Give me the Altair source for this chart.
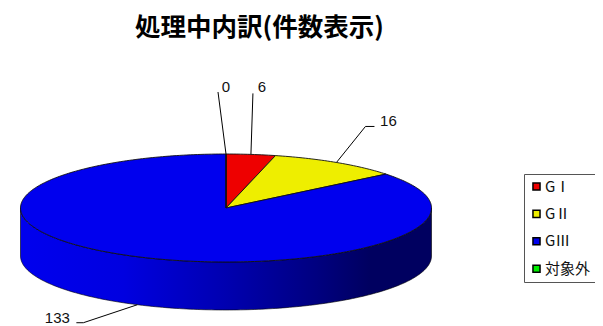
import numpy as np
import pandas as pd
import altair as alt

# Data
categories = ["GⅠ", "GⅡ", "GⅢ", "対象外"]
values = [6, 16, 133, 0]
colors = ["#EE0000", "#EEEE00", "#0000EE", "#00EE00"]
label_texts = ["6", "16", "133", "0"]

# Pie geometry (pixels of the page)
CX, CY, RX, RY, DEPTH = 226.0, 208.0, 205.5, 54.0, 48.0
PAD_TOP = 34
W, H = 587, 318 - PAD_TOP
X0, Y0 = 8, 8 + PAD_TOP            # page position of the plot's top-left corner

total = sum(values)
bounds = np.cumsum([0] + values) / total * 2 * np.pi


def rim(theta):
    return RX * np.sin(theta), RY * np.cos(theta)


features = []
for name, a, b in zip(categories, bounds[:-1], bounds[1:]):
    n = max(2, int(np.degrees(b - a)) + 2)
    th = np.linspace(a, b, n)
    xs, ys = rim(th)
    ring = [[0.0, 0.0]] + [[float(x), float(y)] for x, y in zip(xs, ys)] + [[0.0, 0.0]]
    features.append({"type": "Feature",
                     "geometry": {"type": "Polygon", "coordinates": [ring]},
                     "properties": {"name": name}})

# Side wall: the front half of the rim, dropped by the pie's depth
th = np.linspace(np.pi / 2, 3 * np.pi / 2, 181)
wx, wy = rim(th)
wall = pd.DataFrame({"x": wx, "y": wy, "y2": wy - DEPTH})

# Leader lines start on the rim at each slice's middle angle
mids = (bounds[:-1] + bounds[1:]) / 2
# (elbow offset, end offset, label offset) relative to the anchor, per label
leader_shape = [
    ((2, 61), (2, 61), (11, 67)),         # 6
    ((29, 36), (38, 36), (52, 41)),       # 16
    ((-54, -18), (-61, -18), (-80, -13)), # 133
    ((-8, 62), (-8, 62), (0, 67)),        # 0
]
rows, labels = [], []
for i, (m, txt, shape) in enumerate(zip(mids, label_texts, leader_shape)):
    ax, ay = rim(m)
    if np.cos(m) < 0:
        ay = ay - DEPTH
    rows.append({"k": i, "o": 0, "x": ax, "y": ay})
    rows.append({"k": i, "o": 1, "x": ax + shape[0][0], "y": ay + shape[0][1]})
    rows.append({"k": i, "o": 2, "x": ax + shape[1][0], "y": ay + shape[1][1]})
    labels.append({"x": ax + shape[2][0], "y": ay + shape[2][1], "t": txt})
leaders = pd.DataFrame(rows)
label_df = pd.DataFrame(labels)

x_scale = alt.Scale(domain=[X0 - CX, X0 + W - CX], nice=False, zero=False)
y_scale = alt.Scale(domain=[CY - Y0 - H, CY - Y0], nice=False, zero=False)
X = alt.X("x:Q", scale=x_scale, axis=None)
Y = alt.Y("y:Q", scale=y_scale, axis=None)

wall_grad = alt.LinearGradient(
    gradient="linear", x1=0, x2=1, y1=0, y2=0,
    stops=[
        alt.GradientStop(offset=0, color="#0000EE"),
        alt.GradientStop(offset=0.25, color="#0000E0"),
        alt.GradientStop(offset=0.5, color="#0000B0"),
        alt.GradientStop(offset=0.72, color="#000080"),
        alt.GradientStop(offset=0.85, color="#000060"),
        alt.GradientStop(offset=1, color="#000060"),
    ],
)

wall_layer = alt.Chart(wall).mark_area(
    color=wall_grad, stroke="#000000", strokeWidth=0.6
).encode(x=X, y=Y, y2="y2:Q")

pie_layer = alt.Chart(alt.Data(values=features)).mark_geoshape(
    stroke="#111111", strokeWidth=0.9
).encode(
    color=alt.Color(
        "properties.name:N",
        scale=alt.Scale(domain=categories, range=colors),
        legend=alt.Legend(
            title=None, orient="none", legendX=524 - X0, legendY=174 - Y0,
            symbolType="square", symbolSize=50, symbolStrokeColor="#000000",
            symbolStrokeWidth=1.5, symbolOpacity=1,
            labelFont="Noto Sans CJK JP", labelFontSize=15, labelColor="#111111",
            labelOffset=1, rowPadding=11.4, padding=5,
            fillColor="#FFFFFF", strokeColor="#555555",
            labelLimit=80,
        ),
    )
).project(type="identity", scale=1, translate=[CX - X0, CY - Y0], reflectY=True)

leader_layer = alt.Chart(leaders).mark_line(color="#000000", strokeWidth=1).encode(
    x=X, y=Y, detail="k:N", order="o:Q"
)

text_layer = alt.Chart(label_df).mark_text(
    font="Liberation Sans", fontSize=15, color="#111111", align="center", baseline="middle"
).encode(x=X, y=Y, text="t:N")

chart = alt.layer(wall_layer, pie_layer, leader_layer, text_layer).properties(
    width=W, height=H,
    title=alt.TitleParams(
        "処理中内訳(件数表示)", font="Noto Sans CJK JP", fontSize=25.5, fontWeight="bold",
        color="#000000", anchor="middle", dx=-42, offset=1,
    ),
    autosize=alt.AutoSizeParams(type="none"),
    padding={"left": 0, "right": 0, "top": PAD_TOP, "bottom": 0},
).configure_view(stroke=None)

chart.save("out.html", embed_options={"renderer": "svg", "actions": False})
